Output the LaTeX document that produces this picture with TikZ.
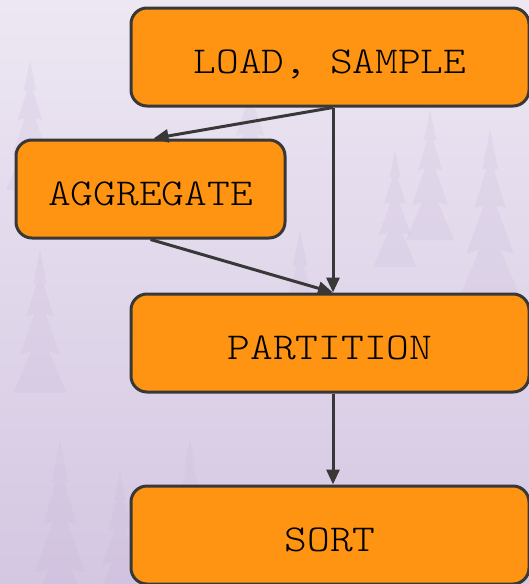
\documentclass[tikz,border=0pt]{standalone}
\usepackage{fontspec}
\setmonofont{lmmonolt10-regular.otf}[FakeStretch=1.14]
\usetikzlibrary{arrows.meta}

\definecolor{boxfill}{HTML}{FF9412}
\definecolor{edge}{HTML}{383838}
\definecolor{skytop}{HTML}{EDE7F3}
\definecolor{skybot}{HTML}{D4C7E2}
\definecolor{pine}{HTML}{C6B4D6}

\tikzset{
  stage/.style={draw=edge, line width=3pt, fill=boxfill, rounded corners=16pt,
    minimum height=98pt, inner sep=0pt, text height=33pt, text depth=0pt,
    font=\ttfamily\fontsize{38}{40}\selectfont, text=black},
  flow/.style={draw=edge, line width=3pt,
    -{Triangle[length=15pt,width=13pt]}},
  % a simple jagged pine silhouette
  pinetree/.pic={
    \fill (0,0) -- (-6,30) -- (-3,30) -- (-12,60) -- (-5,58) -- (-18,95)
      -- (-8,92) -- (-24,130) -- (24,130) -- (8,92) -- (18,95) -- (5,58)
      -- (12,60) -- (3,30) -- (6,30) -- cycle;
  }
}

\begin{document}
\begin{tikzpicture}[x=1pt,y=-1pt]
  % backdrop: soft lavender haze with faint trees
  \shade[top color=skytop, bottom color=skybot] (0,0) rectangle (529,584);
  \useasboundingbox (0,0) rectangle (529,584);
  \begin{scope}[fill=pine, opacity=0.18]
    \pic at (430,110) {pinetree};
    \pic[scale=1.3] at (490,130) {pinetree};
    \pic[scale=0.9] at (395,150) {pinetree};
    \pic[scale=1.1] at (40,250) {pinetree};
    \pic[scale=0.9] at (190,440) {pinetree};
    \pic[scale=1.4] at (60,440) {pinetree};
    \pic[scale=1.0] at (120,470) {pinetree};
    \pic[scale=1.2] at (300,230) {pinetree};
    \pic[scale=0.8] at (250,60) {pinetree};
    \pic[scale=1.0] at (30,60) {pinetree};
  \end{scope}

  % pipeline stages
  \node[stage, minimum width=398pt] (load) at (330,57) {LOAD, SAMPLE};
  \node[stage, minimum width=269pt] (agg)  at (150.5,189) {AGGREGATE};
  \node[stage, minimum width=398pt] (part) at (330,343) {PARTITION};
  \node[stage, minimum width=398pt] (sort) at (330,535) {SORT};

  % data flow
  \coordinate (ls) at ([xshift=3pt]load.south);
  \coordinate (pn) at ([xshift=3pt]part.north);
  \draw[flow] (ls) -- ([xshift=3pt]agg.north);
  \draw[flow] (ls) -- (pn);
  \draw[flow] (agg.south) -- (pn);
  \draw[flow] ([xshift=3pt]part.south) -- ([xshift=3pt]sort.north);
\end{tikzpicture}
\end{document}
